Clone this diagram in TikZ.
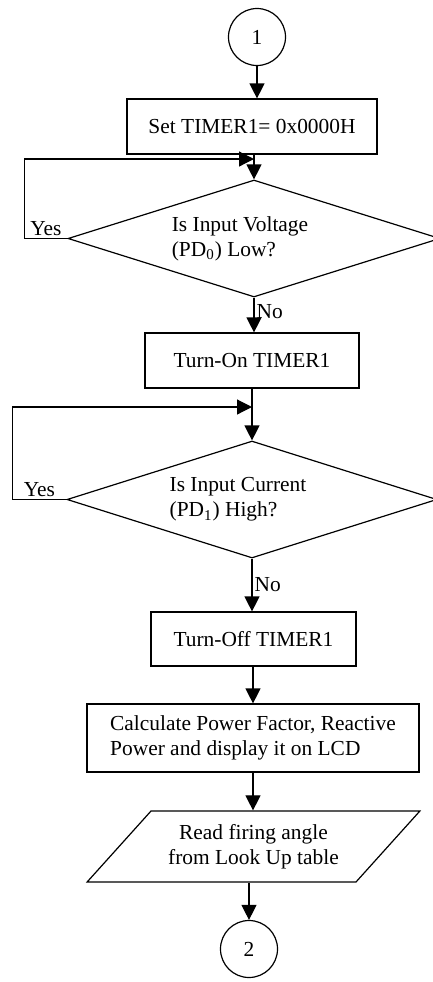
\documentclass[tikz,border=0pt]{standalone}
\usepackage{fontspec}
\setmainfont{Liberation Serif}
\usetikzlibrary{shapes.geometric,arrows.meta}
\tikzstyle{process} = [rectangle, draw=black, line width=0.6pt, inner sep=0pt, text centered]
\tikzstyle{decision} = [diamond, draw=black, line width=0.6pt, aspect=3.2, inner sep=0pt, align=left]
\tikzstyle{inout} = [trapezium, trapezium left angle=40, trapezium right angle=140, trapezium stretches=true, draw=black, line width=0.6pt, inner sep=0pt, align=center]
\tikzstyle{connector} = [circle, draw=black, line width=0.6pt, minimum size=28.5pt, inner sep=0pt]
\tikzstyle{flow} = [line width=0.6pt, -{Triangle[length=7.5pt,width=7.5pt]}]
\tikzstyle{answer} = [inner sep=1pt]

\begin{document}
\begin{tikzpicture}[x=0.5pt,y=-0.5pt,font=\fontsize{10.7}{12.5}\selectfont]
  \useasboundingbox (0,0) rectangle (433,982);

  \node[connector] (c1) at (257,37) {1};
  \node[process, minimum width=125pt, minimum height=27.5pt] (settmr) at (252,126.5) {Set TIMER1= 0x0000H};
  \node[decision, minimum width=186pt, minimum height=58.5pt] (volt) at (254,238.5) {Is Input Voltage\hspace*{14pt}\\(PD\textsubscript{0}) Low?};
  \node[process, minimum width=107pt, minimum height=27.5pt] (tmron) at (252,360.5) {Turn-On TIMER1};
  \node[decision, minimum width=185pt, minimum height=58.5pt] (curr) at (252,499.5) {Is Input Current\hspace*{14pt}\\(PD\textsubscript{1}) High?};
  \node[process, minimum width=102.5pt, minimum height=27pt] (tmroff) at (253.5,639) {Turn-Off TIMER1};
  \node[process, minimum width=166pt, minimum height=34pt, align=left] (calc) at (253,738) {Calculate Power Factor, Reactive\\Power and display it on LCD};
  \node[inout, minimum width=166.5pt, minimum height=35.5pt] (lookup) at (253.5,846.5) {Read firing angle\\from Look Up table};
  \node[connector] (c2) at (249,949) {2};

  % join points of the wait loops
  \coordinate (j1) at (254,159);
  \coordinate (j2) at (252,407);

  \draw[flow] (c1.south) -- (c1.south |- settmr.north);
  \draw[flow] (settmr.south -| volt.north) -- (volt.north);
  \draw[flow] (volt.west) -- node[above, answer] (yes1) {Yes} ++(-43,0) |- (j1);
  \draw[flow] (volt.south) -- node[right, answer, pos=0.4] (no1) {No} (volt.south |- tmron.north);

  \draw[flow] (tmron.south -| curr.north) -- (curr.north);
  \draw[flow] (curr.west) -- node[above, answer] (yes2) {Yes} ++(-54,0) |- (j2);
  \draw[flow] (curr.south) -- node[right, answer] (no2) {No} (curr.south |- tmroff.north);

  \draw[flow] (tmroff.south -| calc.north) -- (calc.north);
  \draw[flow] (calc.south) -- (calc.south |- lookup.north);
  \draw[flow] (lookup.south -| c2.north) -- (c2.north);
\end{tikzpicture}
\end{document}
